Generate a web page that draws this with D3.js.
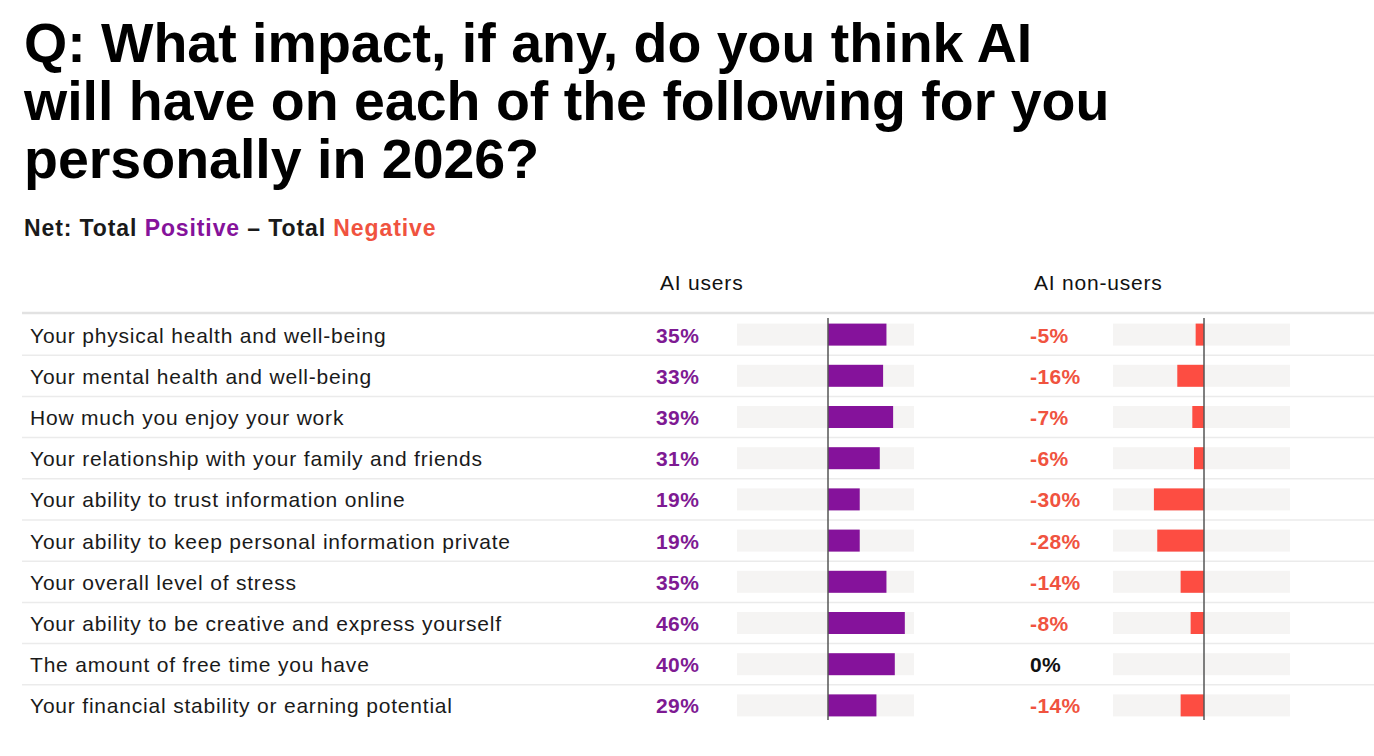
<!DOCTYPE html>
<html>
<head>
<meta charset="utf-8">
<script src="https://cdn.jsdelivr.net/npm/d3@7"></script>
<style>
  body { margin: 0; background: #fff; }
  svg { display: block; }
</style>
</head>
<body>
<div id="chart"></div>
<script>
var titleLines = [
    "Q: What impact, if any, do you think AI",
    "will have on each of the following for you",
    "personally in 2026?"
];

var categories = [
    "Your physical health and well-being",
    "Your mental health and well-being",
    "How much you enjoy your work",
    "Your relationship with your family and friends",
    "Your ability to trust information online",
    "Your ability to keep personal information private",
    "Your overall level of stress",
    "Your ability to be creative and express yourself",
    "The amount of free time you have",
    "Your financial stability or earning potential"
];

var aiUsers = [35, 33, 39, 31, 19, 19, 35, 46, 40, 29];
var aiNonUsers = [-5, -16, -7, -6, -30, -28, -14, -8, 0, -14];

var groups = ["AI users", "AI non-users"];

var width = 1374, height = 756;
var purple = "#85129b", red = "#fd4d42";
var purpleText = "#7e1a93", redText = "#f0533f";
var font = "'Liberation Sans', Arial, sans-serif";

var svg = d3.select("#chart")
    .append("svg")
    .attr("width", width)
    .attr("height", height)
    .style("font-family", font);

// title
svg.append("g")
    .selectAll("text")
    .data(titleLines)
    .enter()
    .append("text")
    .attr("x", 24)
    .attr("y", (d, i) => 62 + i * 58)
    .attr("font-size", 55.5)
    .attr("font-weight", "bold")
    .attr("fill", "#000")
    .text(d => d);

// subtitle
var sub = svg.append("text")
    .attr("x", 24)
    .attr("y", 236)
    .attr("font-size", 23)
    .attr("font-weight", "bold")
    .attr("letter-spacing", 0.9)
    .attr("fill", "#1a1a1a");
sub.append("tspan").text("Net: Total ");
sub.append("tspan").attr("fill", purple).text("Positive");
sub.append("tspan").text(" \u2013 Total ");
sub.append("tspan").attr("fill", redText).text("Negative");

// column headers
var colX = [660, 1034];
svg.append("g")
    .selectAll("text")
    .data(groups)
    .enter()
    .append("text")
    .attr("x", (d, i) => colX[i])
    .attr("y", 290)
    .attr("font-size", 21)
    .attr("letter-spacing", 0.8)
    .attr("fill", "#111")
    .text(d => d);

var y = d3.scaleBand()
    .domain(categories)
    .range([314, 314 + 41.2 * categories.length]);

// top rule + row separators
svg.append("line")
    .attr("x1", 22).attr("x2", width)
    .attr("y1", 313).attr("y2", 313)
    .attr("stroke", "#e2e2e2")
    .attr("stroke-width", 2.5);

svg.append("g")
    .selectAll("line")
    .data(categories.slice(1))
    .enter()
    .append("line")
    .attr("x1", 22).attr("x2", width)
    .attr("y1", d => y(d)).attr("y2", d => y(d))
    .attr("stroke", "#ebebeb")
    .attr("stroke-width", 1.5);

// row labels
svg.append("g")
    .selectAll("text")
    .data(categories)
    .enter()
    .append("text")
    .attr("x", 30)
    .attr("y", d => y(d) + y.bandwidth() / 2 + 8)
    .attr("font-size", 21)
    .attr("letter-spacing", 0.8)
    .attr("fill", "#1a1a1a")
    .text(d => d);

var xUsers = d3.scaleLinear().domain([-54.5, 51.5]).range([737, 914]);
var xNon = d3.scaleLinear().domain([-54.5, 51.5]).range([1113, 1290]);

var barH = 22;

function drawColumn(values, x, valueX, barColor) {
    var g = svg.append("g");
    var dom = x.domain();

    // background tracks
    g.selectAll("rect.track")
        .data(categories)
        .enter()
        .append("rect")
        .attr("class", "track")
        .attr("x", x(dom[0]))
        .attr("width", x(dom[1]) - x(dom[0]))
        .attr("y", d => y(d) + (y.bandwidth() - barH) / 2)
        .attr("height", barH)
        .attr("fill", "#f5f4f3");

    // bars
    g.selectAll("rect.bar")
        .data(values)
        .enter()
        .append("rect")
        .attr("class", "bar")
        .attr("x", d => x(Math.min(0, d)))
        .attr("width", d => Math.abs(x(d) - x(0)))
        .attr("y", (d, i) => y(categories[i]) + (y.bandwidth() - barH) / 2)
        .attr("height", barH)
        .attr("fill", barColor);

    // zero line
    g.append("line")
        .attr("x1", x(0)).attr("x2", x(0))
        .attr("y1", 318).attr("y2", 720)
        .attr("stroke", "#555")
        .attr("stroke-width", 1.5);

    // value labels
    g.selectAll("text")
        .data(values)
        .enter()
        .append("text")
        .attr("x", valueX)
        .attr("y", (d, i) => y(categories[i]) + y.bandwidth() / 2 + 8)
        .attr("font-size", 21)
        .attr("font-weight", "bold")
        .attr("letter-spacing", 0.4)
        .attr("fill", d => d > 0 ? purpleText : d < 0 ? redText : "#111")
        .text(d => d + "%");
}

drawColumn(aiUsers, xUsers, 656, purple);
drawColumn(aiNonUsers, xNon, 1030, red);
</script>
</body>
</html>
